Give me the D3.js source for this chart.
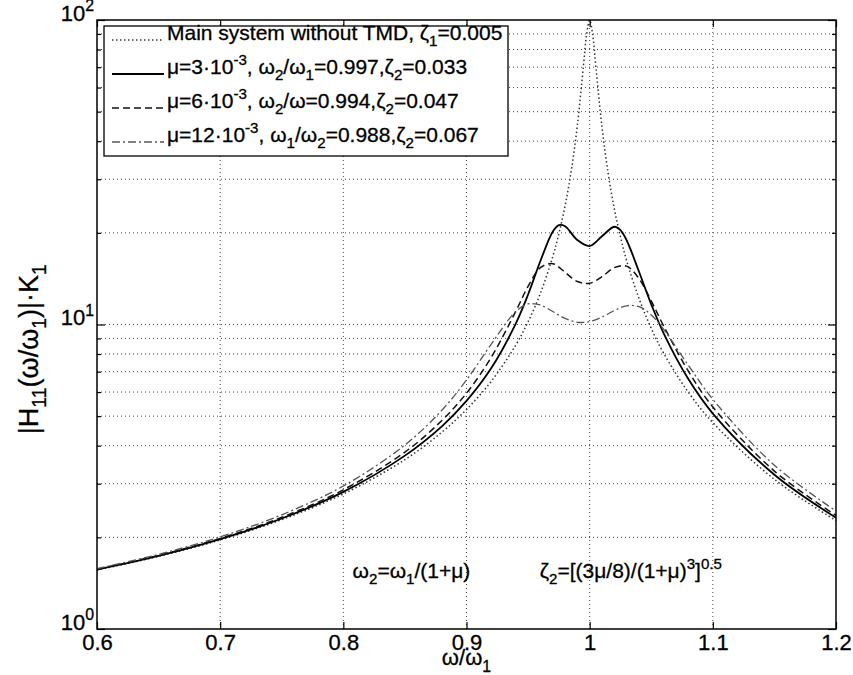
<!DOCTYPE html>
<html>
<head>
<meta charset="utf-8">
<script src="https://cdn.jsdelivr.net/npm/d3@7"></script>
<style>
  body { margin: 0; background: #fff; }
  text { font-family: "Liberation Sans", Arial, sans-serif; fill: #000; stroke: #000; stroke-width: 0.3px; }
</style>
</head>
<body>
<svg id="chart" width="853" height="675"></svg>
<script>
// frequency ratio w/w1 and |H11|*K1
const ratioMain = [0.6, 0.65, 0.7, 0.75, 0.8, 0.85, 0.88, 0.9, 0.92, 0.94, 0.95, 0.96, 0.97, 0.975, 0.98, 0.985, 0.99, 0.995, 0.9975, 1.0, 1.0025, 1.005, 1.01, 1.015, 1.02, 1.025, 1.03, 1.04, 1.05, 1.06, 1.08, 1.1, 1.15, 1.2];
const ampMain = [1.562, 1.732, 1.961, 2.286, 2.777, 3.60, 4.43, 5.26, 6.50, 8.56, 10.21, 12.66, 16.70, 19.87, 24.5, 31.9, 45.0, 71.0, 89.6, 100, 89.2, 70.4, 44.5, 31.4, 24.0, 19.4, 16.2, 12.2, 9.71, 8.06, 6.00, 4.76, 3.10, 2.27];

const ratioMu3 = [0.6, 0.65, 0.7, 0.75, 0.8, 0.85, 0.88, 0.9, 0.92, 0.94, 0.95, 0.96, 0.97, 0.975, 0.98, 0.99, 1.0, 1.01, 1.02, 1.025, 1.03, 1.04, 1.05, 1.06, 1.08, 1.1, 1.15, 1.2];
const ampMu3 = [1.567, 1.738, 1.972, 2.306, 2.82, 3.71, 4.63, 5.61, 7.18, 10.07, 12.55, 16.16, 20.17, 21.20, 21.03, 18.94, 18.10, 19.49, 20.94, 20.41, 18.91, 14.93, 11.65, 9.37, 6.63, 5.10, 3.21, 2.32];

const ratioMu6 = [0.6, 0.65, 0.7, 0.75, 0.8, 0.85, 0.88, 0.9, 0.92, 0.94, 0.95, 0.96, 0.97, 0.98, 0.99, 1.0, 1.01, 1.02, 1.03, 1.04, 1.05, 1.06, 1.08, 1.1, 1.15, 1.2];
const ampMu6 = [1.571, 1.745, 1.984, 2.327, 2.865, 3.81, 4.84, 5.95, 7.79, 11.05, 13.34, 15.37, 15.84, 14.84, 13.84, 13.66, 14.35, 15.37, 15.55, 14.15, 11.95, 9.90, 7.04, 5.36, 3.30, 2.36];

const ratioMu12 = [0.6, 0.65, 0.7, 0.75, 0.8, 0.85, 0.88, 0.9, 0.92, 0.94, 0.95, 0.96, 0.97, 0.98, 0.99, 1.0, 1.01, 1.02, 1.03, 1.04, 1.05, 1.06, 1.08, 1.1, 1.15, 1.2];
const ampMu12 = [1.579, 1.759, 2.006, 2.372, 2.948, 4.02, 5.23, 6.57, 8.61, 11.03, 11.68, 11.59, 11.03, 10.47, 10.17, 10.22, 10.58, 11.11, 11.52, 11.45, 10.75, 9.65, 7.36, 5.68, 3.45, 2.44];

const xTicks = [0.6, 0.7, 0.8, 0.9, 1.0, 1.1, 1.2];
const xTickLabels = ["0.6", "0.7", "0.8", "0.9", "1", "1.1", "1.2"];
const yMajor = [1, 10, 100];
const yExponents = ["0", "1", "2"];
const yMinor = [2, 3, 4, 5, 6, 7, 8, 9, 20, 30, 40, 50, 60, 70, 80, 90];

const width = 853;
const height = 675;
const margin = { top: 20, left: 97, bottom: 46, right: 17 };
const innerWidth = width - margin.left - margin.right;
const innerHeight = height - margin.top - margin.bottom;
const tickFont = 22;
const legendFont = 21;
const noteFont = 21;

const svg = d3.select("#chart");

const xScale = d3.scaleLinear().domain([0.6, 1.2]).range([margin.left, margin.left + innerWidth]);
const yScale = d3.scaleLog().domain([1, 100]).range([margin.top + innerHeight, margin.top]);

// write text with sub/superscripts; parts = [[string, "sub"|"sup"|null], ...]
const rich = (textSel, parts, size) => {
  let shift = 0;
  parts.forEach(([str, kind]) => {
    const target = kind === "sub" ? size * 0.3 : kind === "sup" ? -size * 0.42 : 0;
    textSel.append("tspan")
      .attr("dy", target - shift)
      .attr("font-size", kind ? size * 0.72 : size)
      .text(str);
    shift = target;
  });
};

svg.append("defs").append("clipPath").attr("id", "plotClip")
  .append("rect")
  .attr("x", margin.left).attr("y", margin.top)
  .attr("width", innerWidth).attr("height", innerHeight);

// grid
const grid = svg.append("g").attr("class", "grid")
  .attr("stroke", "#444").attr("stroke-width", 1).attr("stroke-dasharray", "1,3");
grid.selectAll("line.gx")
  .data(xTicks.slice(1, -1))
  .enter().append("line")
  .attr("x1", (d) => xScale(d)).attr("x2", (d) => xScale(d))
  .attr("y1", margin.top).attr("y2", margin.top + innerHeight);
grid.selectAll("line.gy")
  .data(yMinor.concat([10]))
  .enter().append("line")
  .attr("y1", (d) => yScale(d)).attr("y2", (d) => yScale(d))
  .attr("x1", margin.left).attr("x2", margin.left + innerWidth);

// curves
const line = d3.line()
  .x((d) => xScale(d[0]))
  .y((d) => yScale(d[1]))
  .curve(d3.curveCatmullRom.alpha(0.5));

const series = [
  { xs: ratioMain, ys: ampMain, color: "#333", width: 1.5, dash: "1.5,2.5" },
  { xs: ratioMu3, ys: ampMu3, color: "#000", width: 1.8, dash: null },
  { xs: ratioMu6, ys: ampMu6, color: "#111", width: 1.5, dash: "7,4" },
  { xs: ratioMu12, ys: ampMu12, color: "#555", width: 1.3, dash: "8,3,2,3" }
];

const chart = svg.append("g").attr("clip-path", "url(#plotClip)");
chart.selectAll("path")
  .data(series)
  .enter().append("path")
  .attr("fill", "none")
  .attr("stroke", (s) => s.color)
  .attr("stroke-width", (s) => s.width)
  .attr("stroke-dasharray", (s) => s.dash)
  .attr("d", (s) => line(s.xs.map((x, i) => [x, s.ys[i]])));

// axes
const xAxisBottom = svg.append("g")
  .attr("transform", `translate(0, ${margin.top + innerHeight})`)
  .call(d3.axisBottom(xScale).tickValues(xTicks).tickSizeInner(-7).tickSizeOuter(0).tickPadding(5)
    .tickFormat((d, i) => xTickLabels[i]));
svg.append("g")
  .attr("transform", `translate(0, ${margin.top})`)
  .call(d3.axisTop(xScale).tickValues(xTicks).tickSizeInner(-7).tickSizeOuter(0).tickFormat(""));

const yAxisLeft = svg.append("g")
  .attr("transform", `translate(${margin.left}, 0)`)
  .call(d3.axisLeft(yScale).tickValues(yMajor).tickSizeInner(-8).tickSizeOuter(0).tickPadding(8).tickFormat(""));
svg.append("g")
  .attr("transform", `translate(${margin.left}, 0)`)
  .call(d3.axisLeft(yScale).tickValues(yMinor).tickSizeInner(-4).tickSizeOuter(0).tickFormat(""));
svg.append("g")
  .attr("transform", `translate(${margin.left + innerWidth}, 0)`)
  .call(d3.axisRight(yScale).tickValues(yMajor).tickSizeInner(-8).tickSizeOuter(0).tickFormat(""));
svg.append("g")
  .attr("transform", `translate(${margin.left + innerWidth}, 0)`)
  .call(d3.axisRight(yScale).tickValues(yMinor).tickSizeInner(-4).tickSizeOuter(0).tickFormat(""));

svg.selectAll(".domain").remove();
svg.selectAll(".tick line").attr("stroke", "#000").attr("stroke-width", 1.2);

xAxisBottom.selectAll(".tick text")
  .attr("font-size", tickFont)
  .attr("font-family", "Liberation Sans, Arial, sans-serif")
  .attr("fill", "#000");

yAxisLeft.selectAll(".tick").each(function(d, i) {
  const t = d3.select(this).select("text")
    .attr("font-size", tickFont)
    .attr("font-family", "Liberation Sans, Arial, sans-serif")
    .attr("fill", "#000")
    .attr("dy", i === 2 ? "0.5em" : "0.3em")
    .attr("x", -3);
  t.text(null);
  rich(t, [["10", null], [yExponents[i], "sup"]], tickFont);
});

// frame
svg.append("rect")
  .attr("x", margin.left).attr("y", margin.top)
  .attr("width", innerWidth).attr("height", innerHeight)
  .attr("fill", "none").attr("stroke", "#000").attr("stroke-width", 1.5);

// axis titles
const xTitle = svg.append("text")
  .attr("x", xScale(0.9)).attr("y", height - 10)
  .attr("text-anchor", "middle");
rich(xTitle, [["ω/ω", null], ["1", "sub"]], tickFont);

const yTitle = svg.append("text")
  .attr("transform", `translate(38, ${yScale(8.3)}) rotate(-90)`)
  .attr("text-anchor", "middle");
rich(yTitle, [["|H", null], ["11", "sub"], ["(ω/ω", null], ["1", "sub"], [")|·K", null], ["1", "sub"]], 27);

// annotations
const note1 = svg.append("text").attr("x", xScale(0.8075)).attr("y", yScale(1.47));
rich(note1, [["ω", null], ["2", "sub"], ["=ω", null], ["1", "sub"], ["/(1+μ)", null]], noteFont);
const note2 = svg.append("text").attr("x", xScale(0.9595)).attr("y", yScale(1.47));
rich(note2, [["ζ", null], ["2", "sub"], ["=[(3μ/8)/(1+μ)", null], ["3", "sup"], ["]", null], ["0.5", "sup"]], noteFont);

// legend
const legendEntries = [
  [["Main system without TMD, ζ", null], ["1", "sub"], ["=0.005", null]],
  [["μ=3·10", null], ["-3", "sup"], [", ω", null], ["2", "sub"], ["/ω", null], ["1", "sub"], ["=0.997,ζ", null], ["2", "sub"], ["=0.033", null]],
  [["μ=6·10", null], ["-3", "sup"], [", ω", null], ["2", "sub"], ["/ω=0.994,ζ", null], ["2", "sub"], ["=0.047", null]],
  [["μ=12·10", null], ["-3", "sup"], [", ω", null], ["1", "sub"], ["/ω", null], ["2", "sub"], ["=0.988,ζ", null], ["2", "sub"], ["=0.067", null]]
];
const legendBox = { x: 104, y: 26, w: 404, h: 130, row: 34 };
const legend = svg.append("g");
legend.append("rect")
  .attr("x", legendBox.x).attr("y", legendBox.y)
  .attr("width", legendBox.w).attr("height", legendBox.h)
  .attr("fill", "#fff").attr("stroke", "#000").attr("stroke-width", 1.3);
const rows = legend.selectAll("g.row")
  .data(series)
  .enter().append("g")
  .attr("transform", (d, i) => `translate(${legendBox.x}, ${legendBox.y + 14 + i * legendBox.row})`);
rows.append("line")
  .attr("x1", 8).attr("x2", 60)
  .attr("stroke", (s) => s.color)
  .attr("stroke-width", (s) => s.width)
  .attr("stroke-dasharray", (s) => s.dash);
rows.append("text")
  .attr("x", 63).attr("dy", "0.35em")
  .each(function(s, i) { rich(d3.select(this), legendEntries[i], legendFont); });
</script>
</body>
</html>
